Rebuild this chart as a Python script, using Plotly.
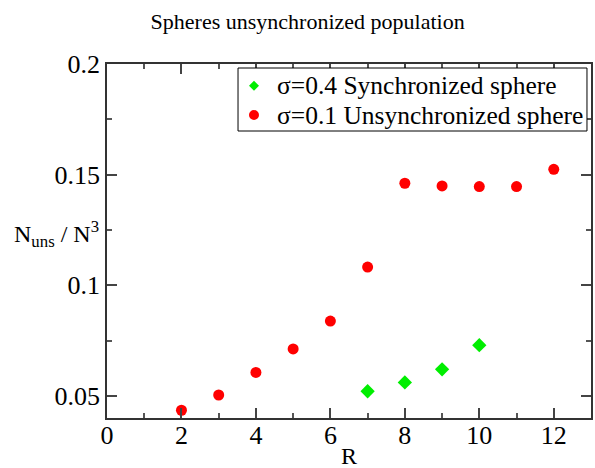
import plotly.graph_objects as go

# Sphere radius R and unsynchronized population fraction
r_sync = [7, 8, 9, 10]
n_sync = [0.0521, 0.0561, 0.0620, 0.0729]

r_unsync = [2, 3, 4, 5, 6, 7, 8, 9, 10, 11, 12]
n_unsync = [0.0435, 0.0504, 0.0606, 0.0712, 0.0838, 0.1082, 0.1461, 0.1449, 0.1446, 0.1446, 0.1524]

x_ticks = [0, 2, 4, 6, 8, 10, 12]
y_ticks = [0.05, 0.1, 0.15, 0.2]
y_tick_text = ["0.05", "0.1", "0.15", "0.2"]

series_names = ["σ=0.4 Synchronized sphere", "σ=0.1 Unsynchronized sphere"]

FONT = "Liberation Serif"
GREEN = "#00ee00"
RED = "#ff0000"

fig = go.Figure()
fig.add_trace(go.Scatter(
    x=r_sync, y=n_sync, mode="markers", name=series_names[0], showlegend=False,
    marker=dict(symbol="diamond", size=11, color=GREEN, line=dict(width=0)),
))
fig.add_trace(go.Scatter(
    x=r_unsync, y=n_unsync, mode="markers", name=series_names[1], showlegend=False,
    marker=dict(symbol="circle", size=11, color=RED, line=dict(width=0)),
))

axis_common = dict(
    showgrid=False, zeroline=False, showline=True, linecolor="#333333", linewidth=1.5,
    mirror="allticks", ticks="inside", ticklen=10, tickwidth=1.5, tickcolor="#444444",
    tickfont=dict(family=FONT, size=26, color="black"), automargin=False,
)

fig.update_xaxes(
    range=[0, 13], tickvals=x_ticks, ticklabelstandoff=-7,
    minor=dict(ticks="inside", ticklen=5, tickwidth=1.5, tickcolor="#555555", dtick=1, tick0=0),
    **axis_common,
)
fig.update_yaxes(
    range=[0.04, 0.2], tickvals=y_ticks, ticktext=y_tick_text,
    minor=dict(ticks="inside", ticklen=5, tickwidth=1.5, tickcolor="#555555", dtick=0.025, tick0=0),
    **axis_common,
)

# axis titles
fig.add_annotation(
    text="N<sub>uns</sub> / N<sup>3</sup>", xref="paper", yref="paper",
    x=-0.105, y=0.52, xanchor="center", yanchor="middle", showarrow=False,
    font=dict(family=FONT, size=24, color="black"),
)
fig.add_annotation(
    text="R", xref="paper", yref="paper",
    x=0.5, y=-0.107, xanchor="center", yanchor="middle", showarrow=False,
    font=dict(family=FONT, size=24, color="black"),
)

# boxed legend in the upper right of the plot
PW, PH = 484.0, 354.0  # plot area size in px
lx0, lx1, ly0, ly1 = 0.2707, 0.9917, 0.8107, 0.9887
fig.add_shape(type="rect", xref="paper", yref="paper", x0=lx0, x1=lx1, y0=ly0, y1=ly1,
              line=dict(color="black", width=1), fillcolor="white", layer="above")
sym_x = 0.3037
text_x = 0.3471
row_y = [0.9387, 0.8559]
r_px = 5.0
dx, dy = r_px / PW, r_px / PH
# diamond symbol
cy = row_y[0]
fig.add_shape(type="path", xref="paper", yref="paper",
              path=f"M {sym_x - dx},{cy} L {sym_x},{cy + dy} L {sym_x + dx},{cy} L {sym_x},{cy - dy} Z",
              fillcolor=GREEN, line=dict(width=0), layer="above")
# circle symbol
cy = row_y[1]
fig.add_shape(type="circle", xref="paper", yref="paper",
              x0=sym_x - dx, x1=sym_x + dx, y0=cy - dy, y1=cy + dy,
              fillcolor=RED, line=dict(width=0), layer="above")
for name, yy in zip(series_names, row_y):
    fig.add_annotation(text=name, xref="paper", yref="paper", x=text_x, y=yy,
                       xanchor="left", yanchor="middle", showarrow=False,
                       font=dict(family=FONT, size=25.5, color="black"))

fig.update_layout(
    width=595, height=468,
    margin=dict(l=107, r=4, t=64, b=50),
    paper_bgcolor="white", plot_bgcolor="white",
    title=dict(text="Spheres unsynchronized population", x=0.517, xanchor="center",
               y=0.955, yanchor="middle", font=dict(family=FONT, size=22, color="black")),
    showlegend=False,
)

fig.write_html("out.html")
